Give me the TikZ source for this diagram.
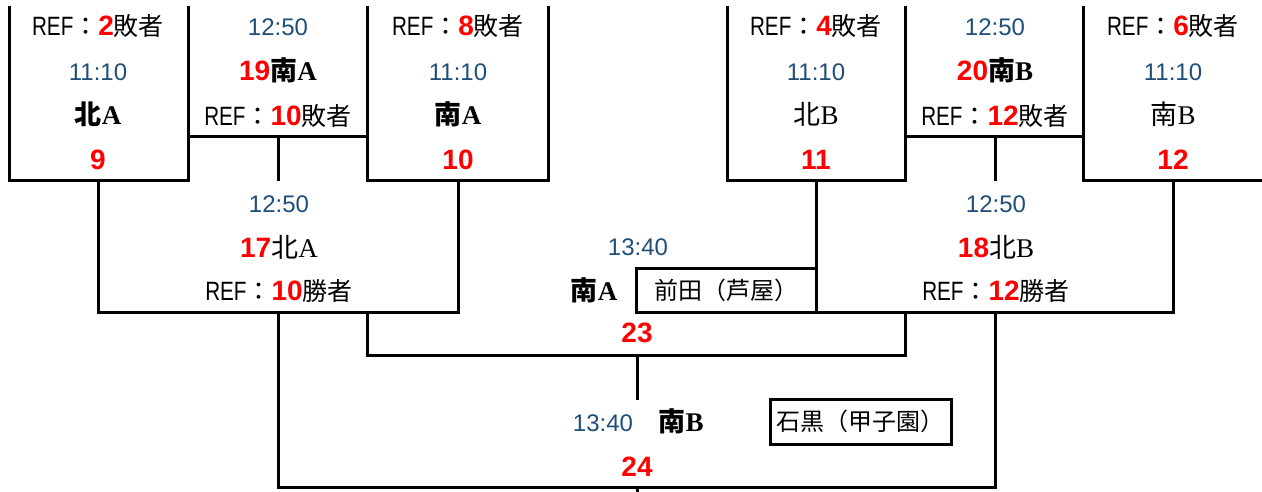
\documentclass[tikz,border=0pt]{standalone}
\usepackage{fontspec}
\setmainfont{Liberation Sans}
\newfontfamily\jp{Noto Sans CJK JP}
\newfontfamily\lat{Liberation Serif}
\newfontfamily\reff[FakeStretch=0.78]{Liberation Sans}
\definecolor{tblue}{RGB}{31,78,121}
\definecolor{rred}{RGB}{255,0,0}
\newcommand\rd[1]{{\fontsize{28}{30}\selectfont\color{rred}\bfseries #1}}
\newcommand\refl[2]{{\fontsize{26.5}{30}\selectfont\reff REF}{\jp ：}\rd{#1}{\jp #2}}
\newcommand\nmb[2]{{\fontsize{27}{30}\selectfont{\jp\bfseries #1}{\lat\bfseries #2}}}
\newcommand\nmr[2]{{\fontsize{27}{30}\selectfont{\jp #1}{\lat #2}}}
\tikzset{
  txt/.style={font=\fontsize{25}{28}\selectfont, inner sep=0pt, anchor=base},
  tim/.style={txt, font=\fontsize{24}{28}\selectfont, text=tblue},
  ln/.style={line width=3pt, line join=miter},
  boxtxt/.style={font=\fontsize{24}{28}\selectfont, inner sep=0pt, anchor=center}
}
\begin{document}
\begin{tikzpicture}[x=1pt,y=-1pt]
\useasboundingbox (0,0) rectangle (1262,492);
% ---- lines ----
% first round boxes
\draw[ln] (9,6) -- (9,181) -- (188,181) -- (188,6);
\draw[ln] (367,6) -- (367,181) -- (548,181) -- (548,6);
\draw[ln] (727,6) -- (727,181) -- (905,181) -- (905,6);
\draw[ln] (1083,6) -- (1083,181) -- (1270,181);
% consolation matches 19, 20
\draw[ln] (188,137) -- (367,137);
\draw[ln] (278,137) -- (278,181);
\draw[ln] (905,137) -- (1083,137);
\draw[ln] (995,137) -- (995,181);
% semifinal boxes 17, 18
\draw[ln] (98,181) -- (98,312) -- (458,312) -- (458,181);
\draw[ln] (816,181) -- (816,312) -- (1173,312) -- (1173,181);
% match 23
\draw[ln] (367,312) -- (367,355) -- (905,355) -- (905,312);
\draw[ln] (637,355) -- (637,400);
% match 24
\draw[ln] (278,312) -- (278,487) -- (995,487) -- (995,312);
\draw[ln] (637,487) -- (637,495);
% referee boxes
\draw[ln] (816,268) -- (636,268) -- (636,312) -- (816,312);
\draw[ln] (770,399) rectangle (951,444);

% ---- texts ----
% box 9
\node[txt] (r9)  at (98,36)  {\refl{2}{敗者}};
\node[tim] (t9)  at (98,81)  {11:10};
\node[txt] (n9)  at (98,125) {\nmb{北}{A}};
\node[txt] (m9)  at (98,170) {\rd{9}};
% match 19
\node[tim] (t19) at (278,36)  {12:50};
\node[txt] (n19) at (278,81)  {\rd{19}\nmb{南}{A}};
\node[txt] (r19) at (278,126) {\refl{10}{敗者}};
% box 10
\node[txt] (r10) at (458,36)  {\refl{8}{敗者}};
\node[tim] (t10) at (458,81)  {11:10};
\node[txt] (n10) at (458,125) {\nmb{南}{A}};
\node[txt] (m10) at (458,170) {\rd{10}};
% box 11
\node[txt] (r11) at (816,36)  {\refl{4}{敗者}};
\node[tim] (t11) at (816,81)  {11:10};
\node[txt] (n11) at (816,125) {\nmr{北}{B}};
\node[txt] (m11) at (816,170) {\rd{11}};
% match 20
\node[tim] (t20) at (995,36)  {12:50};
\node[txt] (n20) at (995,81)  {\rd{20}\nmb{南}{B}};
\node[txt] (r20) at (995,126) {\refl{12}{敗者}};
% box 12
\node[txt] (r12) at (1173,36)  {\refl{6}{敗者}};
\node[tim] (t12) at (1173,81)  {11:10};
\node[txt] (n12) at (1173,125) {\nmr{南}{B}};
\node[txt] (m12) at (1173,170) {\rd{12}};
% match 17
\node[tim] (t17) at (279,212) {12:50};
\node[txt] (n17) at (279,257) {\rd{17}\nmr{北}{A}};
\node[txt] (r17) at (279,300) {\refl{10}{勝者}};
% match 18
\node[tim] (t18) at (996,212) {12:50};
\node[txt] (n18) at (996,257) {\rd{18}\nmr{北}{B}};
\node[txt] (r18) at (996,300) {\refl{12}{勝者}};
% match 23
\node[tim] (t23) at (638,255) {13:40};
\node[txt] (n23) at (594,300) {\nmb{南}{A}};
\node[boxtxt] (ref23) at (726,290) {\jp 前田（芦屋）};
\node[txt] (m23) at (637,342) {\rd{23}};
% match 24
\node[tim] (t24) at (603,431) {13:40};
\node[txt] (n24) at (681,431) {\nmb{南}{B}};
\node[boxtxt] (ref24) at (860,421) {\jp 石黒（甲子園）};
\node[txt] (m24) at (637,476) {\rd{24}};
\end{tikzpicture}
\end{document}
